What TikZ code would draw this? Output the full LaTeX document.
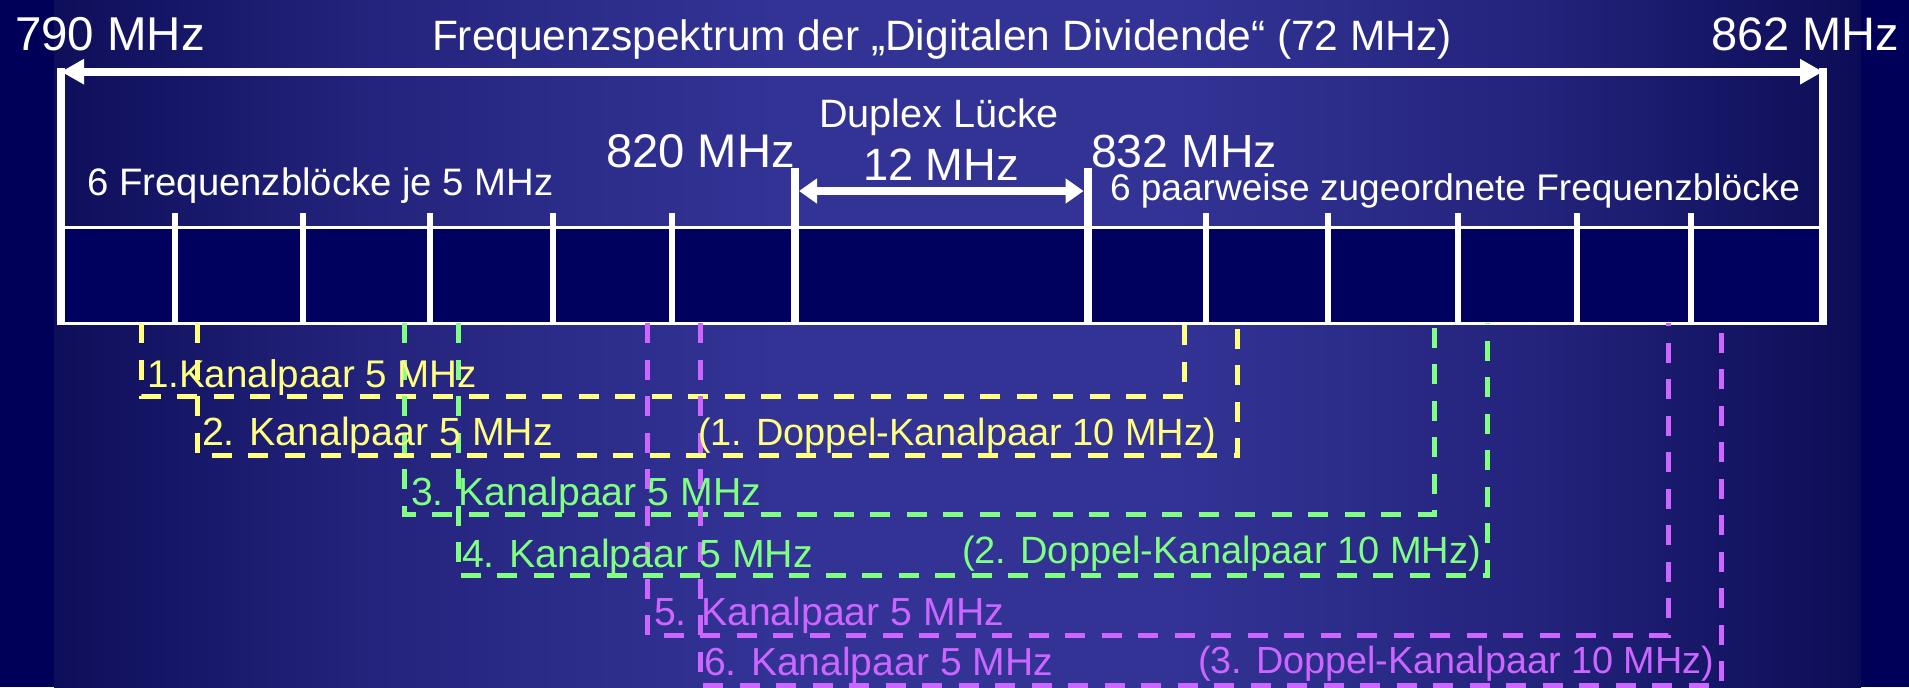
\documentclass[tikz,border=0pt]{standalone}
\usepackage{fontspec}
\setmainfont{Liberation Sans}
\usetikzlibrary{arrows.meta}
\definecolor{bgdark}{RGB}{0,0,88}
\definecolor{bgedgeL}{RGB}{14,14,90}
\definecolor{bgedgeR}{RGB}{12,12,86}
\definecolor{bgmid}{RGB}{51,51,150}
\definecolor{boxfill}{RGB}{0,0,94}
\definecolor{kyel}{RGB}{255,255,128}
\definecolor{kgrn}{RGB}{128,255,128}
\definecolor{kpur}{RGB}{204,102,255}
\pgfdeclarehorizontalshading{bgshade}{100bp}{color(0bp)=(bgedgeL); color(25bp)=(bgedgeL); color(34bp)=(bgmid!60!bgedgeL); color(45bp)=(bgmid); color(56bp)=(bgmid); color(66bp)=(bgmid!60!bgedgeR); color(75bp)=(bgedgeR); color(100bp)=(bgedgeR)}
\newcommand{\fitto}[2]{\resizebox{#1}{!}{#2}}
\begin{document}
\begin{tikzpicture}[x=0.5pt,y=-0.5pt,
  lbl/.style={anchor=base west, inner sep=0pt, outer sep=0pt, font=\fontsize{20}{24}\selectfont},
  wlbl/.style={lbl, text=white},
  frameline/.style={draw=white, line width=4pt},
  divider/.style={draw=white, line width=3pt},
  boxedge/.style={draw=white, line width=1.4pt},
  bigarrow/.style={draw=white, line width=4pt, {Triangle[length=11.5pt,width=12pt]}-{Triangle[length=11.5pt,width=12pt]}},
  duparrow/.style={draw=white, line width=4pt, {Triangle[length=9pt,width=12pt]}-{Triangle[length=9pt,width=12pt]}},
  bracket/.style={line width=2.5pt, dash pattern=on 10pt off 8.25pt},
]
% background
\useasboundingbox (0,0) rectangle (1909,687);
\fill[bgdark] (0,0) rectangle (1909,687);
\shade[shading=bgshade] (54,0) rectangle (1861,687);

% coordinates
\coordinate (L0) at (61,71.7);
\coordinate (R0) at (1823,71.7);
\coordinate (Lt) at (61,67.7);
\coordinate (Rt) at (1823,67.7);
\coordinate (Lb) at (61,324.5);
\coordinate (Rb) at (1823,324.5);

% box
\fill[boxfill] (61,227.3) rectangle (1823,323);
\draw[boxedge] (61,227.3) -- (1823,227.3);
\draw[boxedge] (61,323.3) -- (1823,323.3);

% dividers
\foreach \xx in {174.5,303,430,553,671.6,1205.6,1328,1457.6,1577,1691}
  \draw[divider] (\xx,213) -- (\xx,323);
\coordinate (A820t) at (795,168);
\coordinate (A820b) at (795,323);
\coordinate (A832t) at (1087.6,168);
\coordinate (A832b) at (1087.6,323);
\draw[frameline] (A820t) -- (A820b);
\draw[frameline] (A832t) -- (A832b);
\coordinate (D1) at (799,191);
\coordinate (D2) at (1083.6,191);
\draw[duparrow] (D1) -- (D2);

% outer frame
\draw[frameline] (Lt) -- (Lb);
\draw[frameline] (Rt) -- (Rb);
\draw[bigarrow] (L0) -- (R0);

% brackets
\draw[bracket, kyel] (141,323) -- (141,396.5) -- (1184,396.5) -- (1184,323);
\draw[bracket, kyel] (197.7,323) -- (197.7,455) -- (1237,455) -- (1237,323);
\draw[bracket, kgrn] (404.7,323) -- (404.7,514.3) -- (1434,514.3) -- (1434,323);
\draw[bracket, kgrn] (458,323) -- (458,575.7) -- (1487,575.7) -- (1487,323);
\draw[bracket, kpur] (647,323) -- (647,635) -- (1668.6,635) -- (1668.6,323);
\draw[bracket, kpur] (700,323) -- (700,685) -- (1721,685) -- (1721,323);

% top labels
\node[wlbl] (f790) at (15,50) {\fitto{95pt}{790 MHz}};
\node[wlbl] (title) at (432,50) {\fitto{510pt}{Frequenzspektrum der „Digitalen Dividende“ (72 MHz)}};
\node[wlbl] (f862) at (1711,50) {\fitto{94pt}{862 MHz}};
\node[wlbl] (dup) at (819,127) {\fitto{120pt}{Duplex Lücke}};
\node[wlbl] (f820) at (606,167) {\fitto{94.5pt}{820 MHz}};
\node[wlbl] (f832) at (1091,167) {\fitto{93pt}{832 MHz}};
\node[wlbl] (f12) at (863,180) {\fitto{78pt}{12 MHz}};
\node[wlbl] (blk1) at (87.5,195) {\fitto{233pt}{6 Frequenzblöcke je 5 MHz}};
\node[wlbl] (blk2) at (1110,200) {\fitto{345pt}{6 paarweise zugeordnete Frequenzblöcke}};

% lower labels
\node[lbl, text=kyel] (k1) at (147,387) {\fitto{165pt}{1.Kanalpaar 5 MHz}};
\node[lbl, text=kyel] (k2) at (202,445) {\fitto{175.5pt}{2. Kanalpaar 5 MHz}};
\node[lbl, text=kyel] (d1) at (698,445) {\fitto{259pt}{(1. Doppel-Kanalpaar 10 MHz)}};
\node[lbl, text=kgrn] (k3) at (411,505) {\fitto{175pt}{3. Kanalpaar 5 MHz}};
\node[lbl, text=kgrn] (k4) at (462,567) {\fitto{175.5pt}{4. Kanalpaar 5 MHz}};
\node[lbl, text=kgrn] (d2) at (962,563) {\fitto{259.5pt}{(2. Doppel-Kanalpaar 10 MHz)}};
\node[lbl, text=kpur] (k5) at (654,625) {\fitto{175pt}{5. Kanalpaar 5 MHz}};
\node[lbl, text=kpur] (k6) at (704,675) {\fitto{174.5pt}{6. Kanalpaar 5 MHz}};
\node[lbl, text=kpur] (d3) at (1198,673) {\fitto{258pt}{(3. Doppel-Kanalpaar 10 MHz)}};
\end{tikzpicture}
\end{document}
